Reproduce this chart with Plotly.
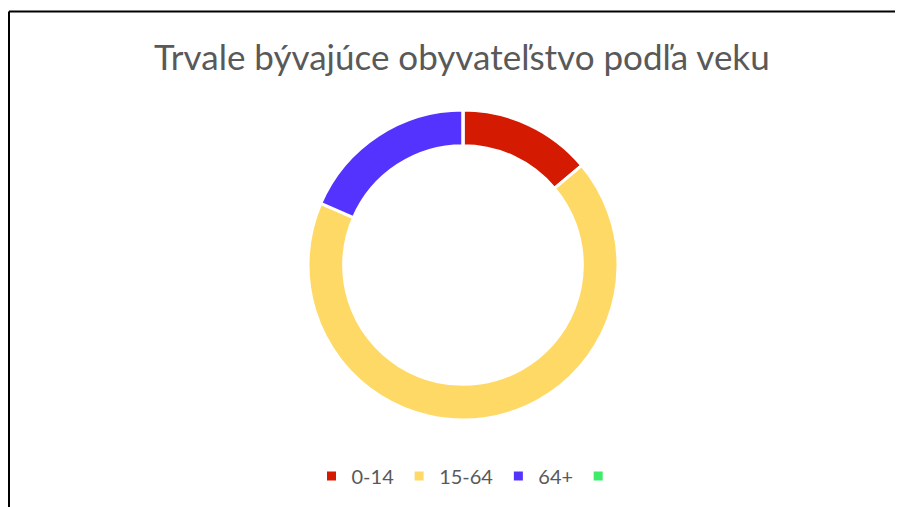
import plotly.graph_objects as go

labels = ["0-14", "15-64", "64+", " "]
values = [13.9, 67.6, 18.5, 0]
colors = ["#D41A00", "#FFD966", "#5433FF", "#3EEB6A"]
title_text = "Trvale bývajúce obyvateľstvo podľa veku"

W, H = 903, 507
OFF = 8  # page body margin offset
cx, cy, r = 463 - OFF, 265 - OFF, 155

fig = go.Figure(go.Pie(
    labels=labels,
    values=values,
    hole=0.77,
    sort=False,
    direction="clockwise",
    rotation=0,
    marker=dict(colors=colors, line=dict(color="white", width=3)),
    textinfo="none",
    hoverinfo="label+value",
    domain=dict(x=[(cx - r) / W, (cx + r) / W], y=[(H - cy - r) / H, (H - cy + r) / H]),
))

fig.update_layout(
    width=W, height=H,
    margin=dict(l=0, r=0, t=0, b=0),
    paper_bgcolor="white",
    font=dict(family="Lato", color="#595959"),
    showlegend=True,
    legend=dict(orientation="h", x=(470 - OFF) / W, xanchor="center", y=1 - (476 - OFF) / H, yanchor="middle",
                font=dict(size=20, color="#595959"), itemwidth=30, traceorder="normal"),
    annotations=[dict(text=title_text, x=(462 - OFF) / W, y=1 - (56 - OFF) / H, xref="paper", yref="paper",
                      xanchor="center", yanchor="middle", showarrow=False,
                      font=dict(size=35, color="#595959", family="Lato"))],
    shapes=[
        dict(type="line", xref="paper", yref="paper", x0=(9 - OFF) / W, x1=1.01,
             y0=1 - (11.5 - OFF) / H, y1=1 - (11.5 - OFF) / H, line=dict(color="black", width=2)),
        dict(type="line", xref="paper", yref="paper", x0=(9 - OFF) / W, x1=(9 - OFF) / W,
             y0=-0.01, y1=1 - (11.5 - OFF) / H, line=dict(color="black", width=2)),
    ],
)

fig.write_html("out.html")
